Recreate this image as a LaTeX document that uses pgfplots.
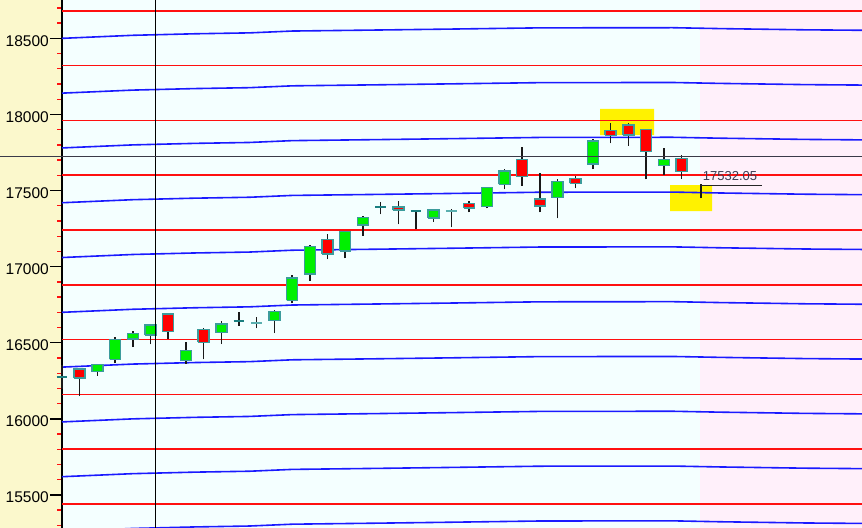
\documentclass[border=0pt]{standalone}
\usepackage{fontspec}
\setmainfont{Liberation Sans}
\usepackage{pgfplots}
\usepackage{pgfplotstable}
\pgfplotsset{compat=1.18}
\definecolor{panelbg}{HTML}{FBF8CC}
\definecolor{plotbg}{HTML}{F4FFFF}
\definecolor{pinkbg}{HTML}{FFF0FA}
\definecolor{lvlred}{HTML}{FF1010}
\definecolor{lvlblue}{HTML}{1A1AFF}
\definecolor{bodygreen}{HTML}{00F000}
\definecolor{bodyred}{HTML}{FF0000}
\definecolor{edge}{HTML}{3C9C9C}
\definecolor{dojidark}{HTML}{1A7F80}
\definecolor{dojilight}{HTML}{5AAFAF}
\definecolor{crossgray}{HTML}{3A3A48}
\definecolor{pricetxt}{HTML}{3C3C52}

% blue levels: index, then one column per line
\pgfplotstableread{
x    b1    b2    b3    b4    b5    b6    b7    b8    b9    b10
0    18500 18140 17780 17420 17060 16700 16340 15980 15620 15260
4    18520 18160 17800 17440 17080 16720 16360 16000 15640 15280
7.5  18530 18170 17810 17450 17090 16730 16370 16010 15650 15290
10.6 18536 18176 17816 17456 17096 16736 16376 16016 15656 15296
13   18548 18188 17828 17468 17108 16748 16388 16028 15668 15308
18   18555 18195 17835 17475 17115 16755 16395 16035 15675 15315
22   18561 18201 17841 17481 17121 16761 16401 16041 15681 15321
27   18569 18209 17849 17489 17129 16769 16409 16049 15689 15329
34.5 18570 18210 17850 17490 17130 16770 16410 16050 15690 15330
37.2 18564 18204 17844 17484 17124 16764 16404 16044 15684 15324
42   18556 18196 17836 17476 17116 16756 16396 16036 15676 15316
45.2 18553 18193 17833 17473 17113 16753 16393 16033 15673 15313
}\bluelevels

\begin{document}
\begin{tikzpicture}
\useasboundingbox (0,0) rectangle (862bp,528bp);
\fill[panelbg] (0,0) rectangle (62bp,528bp);
\begin{axis}[
  at={(62bp,0bp)}, anchor=south west, scale only axis,
  width=800bp, height=528bp,
  xmin=0, xmax=45.2, ymin=15283, ymax=18752,
  clip=false,
  axis x line=none, axis y line*=left,
  y axis line style={-, black, line width=1.6bp},
  axis background/.style={fill=plotbg},
  xtick=\empty,
  ytick={15500,16000,...,18500},
  minor ytick={15300,15400,...,18700},
  tick align=outside,
  major tick length=12bp, minor tick length=5bp,
  major tick style={black, line width=1.4bp},
  minor tick style={lvlred, line width=1.4bp},
  scaled y ticks=false,
  /pgf/number format/assume math mode=true,
  /pgf/number format/set thousands separator={},
  yticklabel style={font=\fontsize{15.5bp}{18bp}\selectfont, inner sep=1bp, yshift=-2.5bp},
  unbounded coords=jump,
]
% right-hand shaded zone and highlight boxes
\addplot[fill=pinkbg, draw=none] coordinates {(36.06,15283) (45.2,15283) (45.2,18752) (36.06,18752) (36.06,15283)};
\addplot[fill=yellow, draw=none] coordinates {(30.4,17865) (33.45,17865) (33.45,18036) (30.4,18036) (30.4,17865)};
\addplot[fill=yellow, draw=none] coordinates {(34.36,17365) (36.73,17365) (36.73,17536) (34.36,17536) (34.36,17365)};

% red levels
\pgfplotsinvokeforeach{18681,18321,17961,17601,17241,16881,16521,16161,15801,15441}{
  \addplot[lvlred, line width=1.6bp] coordinates {(0,#1) (45.2,#1)};
}
% blue levels
\pgfplotsinvokeforeach{1,...,10}{
  \addplot[lvlblue, line width=1.6bp] table[x=x, y=b#1] {\bluelevels};
}

% wicks
\addplot[black!90, line width=1.5bp] coordinates {
(0,16196) (0,16354) (0,nan)
(1,16150) (1,16332) (1,nan)
(2,16282) (2,16361) (2,nan)
(3,16364) (3,16536) (3,nan)
(4,16471) (4,16577) (4,nan)
(5,16490) (5,16621) (5,nan)
(6,16527) (6,16693) (6,nan)
(7,16363) (7,16503) (7,nan)
(8,16391) (8,16599) (8,nan)
(9,16491) (9,16640) (9,nan)
(10,16612) (10,16700) (10,nan)
(11,16595) (11,16672) (11,nan)
(12,16564) (12,16715) (12,nan)
(13,16759) (13,16945) (13,nan)
(14,16906) (14,17142) (14,nan)
(15,17049) (15,17214) (15,nan)
(16,17055) (16,17234) (16,nan)
(17,17203) (17,17333) (17,nan)
(18,17344) (18,17423) (18,nan)
(19,17278) (19,17431) (19,nan)
(20,17245) (20,17367) (20,nan)
(21,17295) (21,17372) (21,nan)
(22,17258) (22,17377) (22,nan)
(23,17357) (23,17433) (23,nan)
(24,17383) (24,17519) (24,nan)
(25,17508) (25,17640) (25,nan)
(26,17530) (26,17784) (26,nan)
(27,17357) (27,17613) (27,nan)
(28,17318) (28,17574) (28,nan)
(29,17515) (29,17596) (29,nan)
(30,17640) (30,17839) (30,nan)
(31,17810) (31,17942) (31,nan)
(32,17795) (32,17942) (32,nan)
(33,17574) (33,17902) (33,nan)
(34,17602) (34,17777) (34,nan)
(35,17576) (35,17733) (35,nan)
(36.1,17449) (36.1,17541) (36.1,nan)
};

% rising bodies
\addplot[fill=bodygreen, draw=edge, line width=1.5bp] coordinates {
(1.69,16310) (2.31,16310) (2.31,16358) (1.69,16358) (1.69,16310) (2,nan)
(2.69,16391) (3.31,16391) (3.31,16523) (2.69,16523) (2.69,16391) (3,nan)
(3.69,16526) (4.31,16526) (4.31,16560) (3.69,16560) (3.69,16526) (4,nan)
(4.69,16550) (5.31,16550) (5.31,16617) (4.69,16617) (4.69,16550) (5,nan)
(6.69,16382) (7.31,16382) (7.31,16450) (6.69,16450) (6.69,16382) (7,nan)
(8.69,16566) (9.31,16566) (9.31,16624) (8.69,16624) (8.69,16566) (9,nan)
(11.69,16646) (12.31,16646) (12.31,16704) (11.69,16704) (11.69,16646) (12,nan)
(12.69,16779) (13.31,16779) (13.31,16927) (12.69,16927) (12.69,16779) (13,nan)
(13.69,16952) (14.31,16952) (14.31,17131) (13.69,17131) (13.69,16952) (14,nan)
(15.69,17103) (16.31,17103) (16.31,17230) (15.69,17230) (15.69,17103) (16,nan)
(16.69,17274) (17.31,17274) (17.31,17324) (16.69,17324) (16.69,17274) (17,nan)
(20.69,17321) (21.31,17321) (21.31,17372) (20.69,17372) (20.69,17321) (21,nan)
(23.69,17394) (24.31,17394) (24.31,17519) (23.69,17519) (23.69,17394) (24,nan)
(24.69,17541) (25.31,17541) (25.31,17628) (24.69,17628) (24.69,17541) (25,nan)
(27.69,17453) (28.31,17453) (28.31,17558) (27.69,17558) (27.69,17453) (28,nan)
(29.69,17674) (30.31,17674) (30.31,17827) (29.69,17827) (29.69,17674) (30,nan)
(33.69,17666) (34.31,17666) (34.31,17705) (33.69,17705) (33.69,17666) (34,nan)
};

% falling bodies
\addplot[fill=bodyred, draw=edge, line width=1.5bp] coordinates {
(0.69,16268) (1.31,16268) (1.31,16328) (0.69,16328) (0.69,16268) (1,nan)
(5.69,16574) (6.31,16574) (6.31,16689) (5.69,16689) (5.69,16574) (6,nan)
(7.69,16502) (8.31,16502) (8.31,16588) (7.69,16588) (7.69,16502) (8,nan)
(14.69,17083) (15.31,17083) (15.31,17180) (14.69,17180) (14.69,17083) (15,nan)
(18.69,17372) (19.31,17372) (19.31,17392) (18.69,17392) (18.69,17372) (19,nan)
(22.69,17387) (23.31,17387) (23.31,17416) (22.69,17416) (22.69,17387) (23,nan)
(25.69,17591) (26.31,17591) (26.31,17705) (25.69,17705) (25.69,17591) (26,nan)
(26.69,17400) (27.31,17400) (27.31,17444) (26.69,17444) (26.69,17400) (27,nan)
(28.69,17547) (29.31,17547) (29.31,17578) (28.69,17578) (28.69,17547) (29,nan)
(30.69,17863) (31.31,17863) (31.31,17893) (30.69,17893) (30.69,17863) (31,nan)
(31.69,17865) (32.31,17865) (32.31,17931) (31.69,17931) (31.69,17865) (32,nan)
(32.69,17755) (33.31,17755) (33.31,17902) (32.69,17902) (32.69,17755) (33,nan)
(34.69,17624) (35.31,17624) (35.31,17712) (34.69,17712) (34.69,17624) (35,nan)
};

% unchanged bars
\addplot[dojidark, line width=2.2bp] coordinates {
(-0.31,16277) (0.31,16277) (0,nan)
(9.69,16644) (10.31,16644) (10,nan)
(17.69,17390) (18.31,17390) (18,nan)
(19.69,17367) (20.31,17367) (20,nan)
};
\addplot[dojilight, line width=2.2bp] coordinates {
(10.69,16632) (11.31,16632) (11,nan)
(21.69,17365) (22.31,17365) (22,nan)
};

% last price marker
\addplot[black!85, line width=1.4bp] coordinates {(36.1,17532.05) (39.55,17532.05)};
\node[anchor=south west, inner sep=0pt, text=pricetxt, font=\fontsize{13bp}{15bp}\selectfont]
  at (axis cs:36.2,17565) {17532.05};

% cross-hair
\addplot[black, line width=1.3bp] coordinates {(5.27,15283) (5.27,18752)};
\addplot[crossgray, line width=1.4bp] coordinates {(-3.5,17723) (45.2,17723)};
\end{axis}
\end{tikzpicture}
\end{document}
